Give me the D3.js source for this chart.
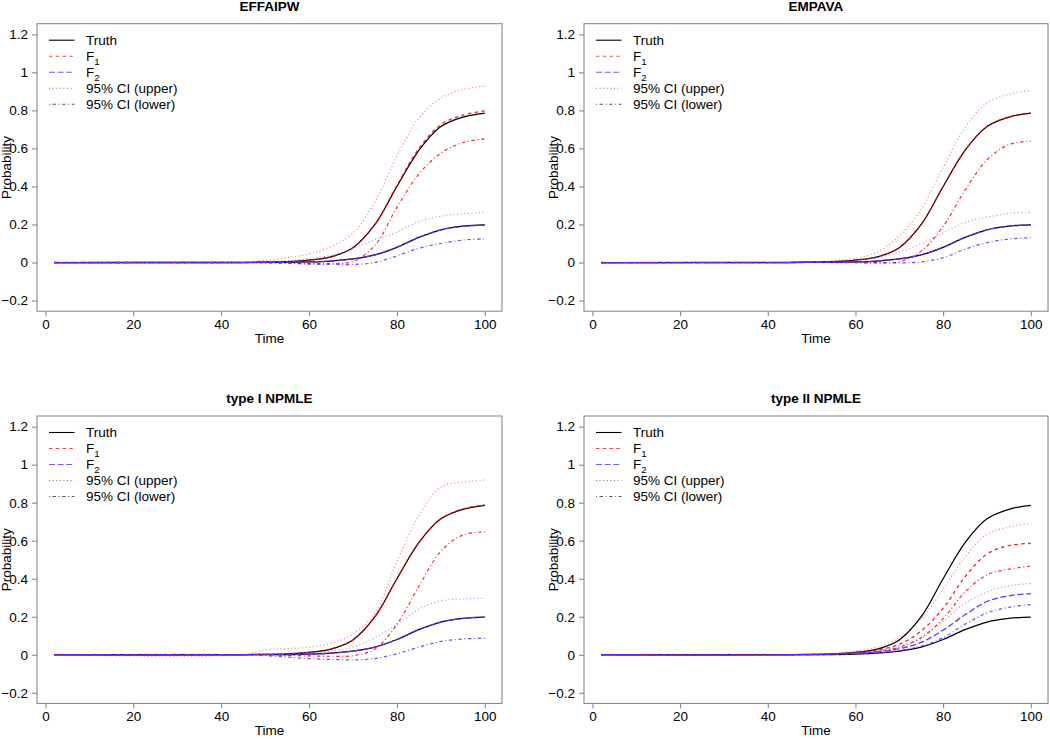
<!DOCTYPE html>
<html>
<head>
<meta charset="utf-8">
<script src="https://cdn.jsdelivr.net/npm/d3@7/dist/d3.min.js"></script>
<style>
  html, body { margin: 0; padding: 0; background: #fff; }
  svg { display: block; font-family: "Liberation Sans", Arial, Helvetica, sans-serif; }
</style>
</head>
<body>
<svg id="chart" width="1050" height="739"></svg>
<script>
// ---------------- data ----------------
const panelTitles = ["EFFAIPW", "EMPAVA", "type I NPMLE", "type II NPMLE"];
const time = [2, 45, 50, 55, 60, 65, 70, 75, 80, 85, 90, 95, 100];
const yTicks = [-0.2, 0, 0.2, 0.4, 0.6, 0.8, 1, 1.2];
const xTicks = [0, 20, 40, 60, 80, 100];
const legendLabels = ["Truth", "F1", "F2", "95% CI (upper)", "95% CI (lower)"];

const truthF1 = [0, 0.001, 0.002, 0.005, 0.013, 0.03, 0.078, 0.2, 0.4, 0.59, 0.715, 0.765, 0.786];
const truthF2 = [0, 0, 0.0005, 0.001, 0.003, 0.008, 0.019, 0.04, 0.08, 0.132, 0.172, 0.191, 0.198];

// EFFAIPW
const effF1   = [0, 0, 0.002, 0.004, 0.012, 0.03, 0.078, 0.2, 0.405, 0.6, 0.725, 0.775, 0.797];
const effF1Up = [0, 0, 0.012, 0.025, 0.045, 0.085, 0.153, 0.32, 0.56, 0.76, 0.865, 0.91, 0.928];
const effF1Lo = [0, 0, 0, -0.003, -0.006, -0.005, 0.005, 0.09, 0.29, 0.465, 0.575, 0.63, 0.651];
const effF2   = [0, 0, 0, 0.001, 0.003, 0.008, 0.019, 0.04, 0.08, 0.132, 0.172, 0.19, 0.196];
const effF2Up = [0, 0, 0.004, 0.01, 0.02, 0.038, 0.075, 0.12, 0.16, 0.215, 0.243, 0.257, 0.262];
const effF2Lo = [0, 0, -0.002, -0.004, -0.008, -0.01, -0.01, 0.0, 0.035, 0.075, 0.1, 0.118, 0.124];

// EMPAVA
const empF1   = [0, 0, 0.002, 0.005, 0.013, 0.03, 0.078, 0.2, 0.4, 0.59, 0.715, 0.765, 0.786];
const empF1Up = [0, 0, 0.004, 0.01, 0.022, 0.055, 0.14, 0.28, 0.5, 0.71, 0.84, 0.885, 0.907];
const empF1Lo = [0, 0, 0, 0, 0, 0, 0.004, 0.06, 0.19, 0.38, 0.54, 0.62, 0.639];
const empF2   = [0, 0, 0.0005, 0.001, 0.003, 0.008, 0.019, 0.04, 0.08, 0.132, 0.172, 0.191, 0.198];
const empF2Up = [0, 0, 0.002, 0.006, 0.012, 0.026, 0.055, 0.098, 0.155, 0.21, 0.238, 0.258, 0.264];
const empF2Lo = [0, 0, 0, 0, -0.001, -0.002, -0.002, 0.003, 0.025, 0.07, 0.105, 0.123, 0.131];

// type I NPMLE
const np1F1   = [0, 0, 0.002, 0.005, 0.013, 0.03, 0.078, 0.2, 0.4, 0.59, 0.715, 0.767, 0.788];
const np1F1Up = [0, 0, 0.025, 0.032, 0.04, 0.06, 0.11, 0.22, 0.49, 0.73, 0.882, 0.907, 0.92];
const np1F1Lo = [0, 0, 0, -0.003, -0.006, -0.008, -0.005, 0.03, 0.16, 0.36, 0.545, 0.63, 0.646];
const np1F2   = [0, 0, 0.0005, 0.001, 0.003, 0.008, 0.019, 0.04, 0.08, 0.132, 0.172, 0.191, 0.198];
const np1F2Up = [0, 0, 0.005, 0.008, 0.012, 0.02, 0.04, 0.09, 0.16, 0.24, 0.283, 0.294, 0.297];
const np1F2Lo = [0, 0, -0.005, -0.012, -0.02, -0.025, -0.027, -0.02, 0.005, 0.04, 0.07, 0.083, 0.086];

// type II NPMLE
const np2F1   = [0, 0, 0.001, 0.005, 0.012, 0.025, 0.055, 0.125, 0.245, 0.41, 0.53, 0.574, 0.586];
const np2F1Up = [0, 0, 0.003, 0.008, 0.02, 0.04, 0.09, 0.19, 0.345, 0.515, 0.635, 0.672, 0.692];
const np2F1Lo = [0, 0, 0, 0.003, 0.008, 0.018, 0.04, 0.09, 0.19, 0.33, 0.42, 0.45, 0.466];
const np2F2   = [0, 0, 0.001, 0.004, 0.008, 0.016, 0.032, 0.065, 0.13, 0.21, 0.28, 0.31, 0.322];
const np2F2Up = [0, 0, 0.002, 0.005, 0.012, 0.025, 0.045, 0.085, 0.175, 0.27, 0.33, 0.362, 0.375];
const np2F2Lo = [0, 0, 0, 0.002, 0.005, 0.01, 0.022, 0.045, 0.09, 0.16, 0.22, 0.25, 0.264];

// ---------------- styling ----------------
const RED = "#ff0000", BLUE = "#5f2bff";
const DASH = { solid: null, dashed: "3.4,3.4", longdash: "6,2.6", dotted: "1,2.6", dotdash: "1,2.6,3.4,2.6" };

const panels = [
  { title: panelTitles[0], f1: effF1, f1u: effF1Up, f1l: effF1Lo, f2: effF2, f2u: effF2Up, f2l: effF2Lo },
  { title: panelTitles[1], f1: empF1, f1u: empF1Up, f1l: empF1Lo, f2: empF2, f2u: empF2Up, f2l: empF2Lo },
  { title: panelTitles[2], f1: np1F1, f1u: np1F1Up, f1l: np1F1Lo, f2: np1F2, f2u: np1F2Up, f2l: np1F2Lo },
  { title: panelTitles[3], f1: np2F1, f1u: np2F1Up, f1l: np2F1Lo, f2: np2F2, f2u: np2F2Up, f2l: np2F2Lo }
];

const boxes = [
  { x0: 37, x1: 502, y0: 23.7, y1: 311.2 },
  { x0: 584, x1: 1048, y0: 23.7, y1: 311.2 },
  { x0: 37, x1: 502, y0: 416, y1: 703.4 },
  { x0: 584, x1: 1048, y0: 416, y1: 703.4 }
];

const svg = d3.select("#chart");
const FS = 13.5;
const AXC = "#808080";
const fmt = d => (Math.round(d * 10) / 10).toString().replace("-", "\u2212");

panels.forEach((p, i) => {
  const b = boxes[i];
  const x = d3.scaleLinear().domain([-1.92, 103.92]).range([b.x0, b.x1]);
  const y = d3.scaleLinear().domain([-0.256, 1.256]).range([b.y1, b.y0]);
  const g = svg.append("g");

  const cid = "clip" + i;
  svg.append("clipPath").attr("id", cid).append("rect")
    .attr("x", b.x0).attr("y", b.y0).attr("width", b.x1 - b.x0).attr("height", b.y1 - b.y0);

  const line = d3.line().x(d => x(d[0])).y(d => y(d[1])).curve(d3.curveCatmullRom.alpha(0.5));
  const series = [
    { v: truthF1, c: "#000", d: DASH.solid, o: 1, w: 1.25 },
    { v: truthF2, c: "#000", d: DASH.solid, o: 1, w: 1.25 },
    { v: p.f1, c: RED, d: DASH.dashed, o: 0.9, w: 1.3 },
    { v: p.f1u, c: RED, d: DASH.dotted, o: 0.55, w: 1.2 },
    { v: p.f1l, c: RED, d: DASH.dotdash, o: 0.85, w: 1.2 },
    { v: p.f2, c: BLUE, d: DASH.longdash, o: 0.95, w: 1.3 },
    { v: p.f2u, c: BLUE, d: DASH.dotted, o: 0.55, w: 1.2 },
    { v: p.f2l, c: BLUE, d: DASH.dotdash, o: 0.85, w: 1.2 }
  ];
  const lg = g.append("g").attr("clip-path", `url(#${cid})`);
  series.forEach(s => {
    lg.append("path")
      .datum(time.map((t, k) => [t, s.v[k]]))
      .attr("d", line)
      .attr("fill", "none")
      .attr("stroke", s.c)
      .attr("stroke-opacity", s.o)
      .attr("stroke-width", s.w)
      .attr("stroke-dasharray", s.d);
  });

  g.append("rect").attr("x", b.x0).attr("y", b.y0)
    .attr("width", b.x1 - b.x0).attr("height", b.y1 - b.y0)
    .attr("fill", "none").attr("stroke", AXC).attr("stroke-width", 1);

  const ax = g.append("g").attr("transform", `translate(0,${b.y1})`)
    .call(d3.axisBottom(x).tickValues(xTicks).tickSize(5).tickPadding(3).tickFormat(d3.format("d")));
  const ay = g.append("g").attr("transform", `translate(${b.x0},0)`)
    .call(d3.axisLeft(y).tickValues(yTicks).tickSize(5).tickPadding(4).tickFormat(fmt));
  [ax, ay].forEach(a => {
    a.select(".domain").remove();
    a.selectAll(".tick line").attr("stroke", AXC);
    a.selectAll(".tick text").attr("font-size", FS).attr("fill", "#000")
      .attr("font-family", "Liberation Sans, Arial, sans-serif");
  });

  g.append("text").attr("x", (b.x0 + b.x1) / 2).attr("y", b.y0 - 12.7)
    .attr("text-anchor", "middle").attr("font-weight", "bold").attr("font-size", FS)
    .text(p.title);
  g.append("text").attr("x", (b.x0 + b.x1) / 2).attr("y", b.y1 + 32)
    .attr("text-anchor", "middle").attr("font-size", FS).text("Time");
  const ylx = b.x0 - 26.5, yly = (b.y0 + b.y1) / 2;
  g.append("text").attr("transform", `translate(${ylx},${yly}) rotate(-90)`)
    .attr("text-anchor", "middle").attr("font-size", FS).text("Probability");

  const leg = [
    { c: "#000", d: DASH.solid, o: 1 },
    { c: RED, d: DASH.dashed, o: 0.75 },
    { c: BLUE, d: DASH.longdash, o: 0.8 },
    { c: "#555", d: DASH.dotted, o: 0.8 },
    { c: "#444", d: DASH.dotdash, o: 0.9 }
  ];
  leg.forEach((s, k) => {
    const yy = b.y0 + 16.5 + k * 16;
    g.append("line").attr("x1", b.x0 + 12).attr("x2", b.x0 + 37.5)
      .attr("y1", yy).attr("y2", yy)
      .attr("stroke", s.c).attr("stroke-opacity", s.o).attr("stroke-width", 1.1)
      .attr("stroke-dasharray", s.d);
    const t = g.append("text").attr("x", b.x0 + 49).attr("y", yy + 4.8).attr("font-size", FS);
    const lab = legendLabels[k];
    if (lab === "F1" || lab === "F2") {
      t.append("tspan").text("F");
      t.append("tspan").attr("dy", 3.5).attr("font-size", FS * 0.72).text(lab.slice(1));
    } else {
      t.text(lab);
    }
  });
});
</script>
</body>
</html>
